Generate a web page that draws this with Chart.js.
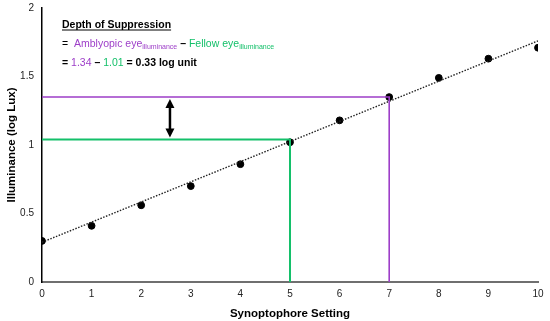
<!DOCTYPE html>
<html>
<head>
<meta charset="utf-8">
<script src="https://cdn.jsdelivr.net/npm/chart.js@4/dist/chart.umd.min.js"></script>
<style>
  html, body { margin: 0; padding: 0; background: #fff; }
  #wrap { width: 550px; height: 321px; }
</style>
</head>
<body>
<div id="wrap"><canvas id="grafico"></canvas></div>
<script>
// dados
const settings = [0, 1, 2, 3, 4, 5, 6, 7, 8, 9, 10];
const illuminance = [0.30, 0.41, 0.56, 0.70, 0.86, 1.02, 1.18, 1.35, 1.49, 1.63, 1.71];
const trendX = [0, 10];
const trendY = [0.29, 1.76];
const amblyopicX = [0, 7, 7];
const amblyopicY = [1.35, 1.35, 0];
const fellowX = [0, 5, 5];
const fellowY = [1.04, 1.04, 0];
const arrowX = 2.58;
const arrowY = [1.35, 1.04];
const yTicks = [0, 0.5, 1, 1.5, 2];

const ROXO = '#9d3ec8';
const VERDE = '#14c06a';
const FONTE = "'Liberation Sans', Arial, sans-serif";

function pares(xs, ys) {
    return xs.map((x, i) => ({ x: x, y: ys[i] }));
}

// seta dupla e texto explicativo
const anotacoes = {
    id: 'anotacoes',
    afterDatasetsDraw(chart) {
        const ctx = chart.ctx;
        const sx = chart.scales.x, sy = chart.scales.y;
        const ax = sx.getPixelForValue(arrowX);
        const y1 = sy.getPixelForValue(arrowY[0]) + 2;
        const y2 = sy.getPixelForValue(arrowY[1]) - 2;
        ctx.save();
        ctx.strokeStyle = '#000';
        ctx.fillStyle = '#000';
        ctx.lineWidth = 2.5;
        ctx.beginPath();
        ctx.moveTo(ax, y1 + 6);
        ctx.lineTo(ax, y2 - 6);
        ctx.stroke();
        ctx.beginPath();
        ctx.moveTo(ax, y1);
        ctx.lineTo(ax - 4.5, y1 + 9);
        ctx.lineTo(ax + 4.5, y1 + 9);
        ctx.closePath();
        ctx.fill();
        ctx.beginPath();
        ctx.moveTo(ax, y2);
        ctx.lineTo(ax - 4.5, y2 - 9);
        ctx.lineTo(ax + 4.5, y2 - 9);
        ctx.closePath();
        ctx.fill();
        ctx.restore();
    },
    afterDraw(chart) {
        const ctx = chart.ctx;
        ctx.save();
        ctx.textBaseline = 'alphabetic';
        ctx.textAlign = 'left';

        const titulo = 'Depth of Suppression';
        ctx.font = 'bold 10.5px ' + FONTE;
        ctx.fillStyle = '#000';
        ctx.fillText(titulo, 62, 28);
        const w = ctx.measureText(titulo).width;
        ctx.fillRect(62, 29.5, w, 1);

        function trecho(partes, x, y) {
            partes.forEach(p => {
                ctx.font = p.f + FONTE;
                ctx.fillStyle = p.c;
                ctx.fillText(p.t, x, y + (p.dy || 0));
                x += ctx.measureText(p.t).width;
            });
        }
        trecho([
            { t: '=  ', c: '#000', f: '10.5px ' },
            { t: 'Amblyopic eye', c: ROXO, f: '10.5px ' },
            { t: 'illuminance', c: ROXO, f: '7px ', dy: 2 },
            { t: ' \u2013 ', c: '#000', f: 'bold 10.5px ' },
            { t: 'Fellow eye', c: VERDE, f: '10.5px ' },
            { t: 'illuminance', c: VERDE, f: '7px ', dy: 2 }
        ], 62, 47);
        trecho([
            { t: '= ', c: '#000', f: 'bold 10.5px ' },
            { t: '1.34', c: ROXO, f: '10.5px ' },
            { t: ' \u2013 ', c: '#000', f: 'bold 10.5px ' },
            { t: '1.01', c: VERDE, f: '10.5px ' },
            { t: ' = 0.33 log unit', c: '#000', f: 'bold 10.5px ' }
        ], 62, 66);
        ctx.restore();
    }
};

const ctx = document.getElementById('grafico').getContext('2d');
const grafico = new Chart(ctx, {
    type: 'scatter',
    data: {
        datasets: [
            {
                label: 'Fellow eye',
                type: 'line',
                data: pares(fellowX, fellowY),
                borderColor: VERDE,
                borderWidth: 2,
                pointRadius: 0,
                fill: false,
                tension: 0
            },
            {
                label: 'Amblyopic eye',
                type: 'line',
                data: pares(amblyopicX, amblyopicY),
                borderColor: ROXO,
                borderWidth: 1.6,
                pointRadius: 0,
                fill: false,
                tension: 0
            },
            {
                label: 'Trend',
                type: 'line',
                data: pares(trendX, trendY),
                borderColor: '#222',
                borderWidth: 1.4,
                borderDash: [1.5, 1.5],
                pointRadius: 0,
                fill: false
            },
            {
                label: 'Illuminance',
                data: pares(settings, illuminance),
                backgroundColor: '#000',
                borderColor: '#000',
                pointRadius: 3.4,
                pointHoverRadius: 3.4
            }
        ]
    },
    options: {
        responsive: true,
        maintainAspectRatio: false,
        animation: false,
        layout: { padding: { top: 8, right: 12, left: 5, bottom: 0 } },
        plugins: {
            legend: { display: false },
            tooltip: { enabled: false }
        },
        scales: {
            x: {
                type: 'linear',
                min: 0,
                max: 10,
                grid: { display: false, drawTicks: false },
                border: { display: true, color: '#6f6f6f', width: 2 },
                ticks: {
                    stepSize: 1,
                    padding: 6,
                    color: '#222',
                    font: { family: FONTE, size: 10 }
                },
                title: {
                    display: true,
                    text: 'Synoptophore Setting',
                    color: '#000',
                    font: { family: FONTE, size: 11.5, weight: 'bold' },
                    padding: { top: 2, bottom: 0 }
                },
                afterFit(scale) { scale.height = 39; }
            },
            y: {
                min: 0,
                max: 2,
                grid: { display: false, drawTicks: false },
                border: { display: true, color: '#000', width: 1.5 },
                afterBuildTicks(scale) {
                    scale.ticks = yTicks.map(v => ({ value: v }));
                },
                ticks: {
                    padding: 8,
                    color: '#222',
                    font: { family: FONTE, size: 10 },
                    callback: (v) => String(v)
                },
                title: {
                    display: true,
                    text: 'Illuminance (log Lux)',
                    color: '#000',
                    font: { family: FONTE, size: 11.5, weight: 'bold' },
                    padding: { top: 0, bottom: 2 }
                },
                afterFit(scale) {
                    scale.width = 37;
                    scale.paddingTop = 0;
                }
            }
        }
    },
    plugins: [anotacoes]
});
</script>
</body>
</html>
